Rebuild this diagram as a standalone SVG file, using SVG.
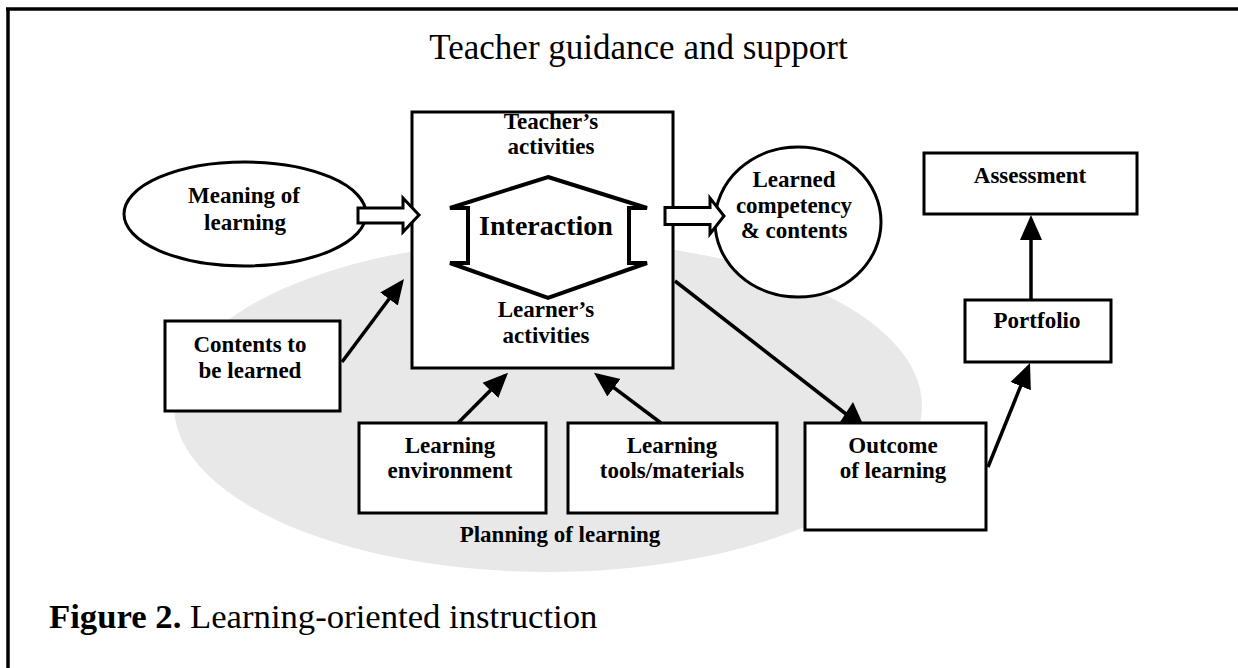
<svg xmlns="http://www.w3.org/2000/svg" width="1238" height="668" viewBox="0 0 1238 668">
<style>
.bx{fill:#fff;stroke:#000;stroke-width:3}
.lb{font-family:"Liberation Serif","Times New Roman",serif;font-weight:bold;font-size:23px;text-anchor:middle;fill:#000}
.big{font-size:28px}
.ln{stroke:#000;stroke-width:3.5;fill:none}
.hollow{fill:#fff;stroke:#000;stroke-width:3;stroke-linejoin:miter}
</style>
<defs>
<marker id="ah" markerUnits="userSpaceOnUse" markerWidth="26" markerHeight="24" viewBox="0 0 26 24" refX="21" refY="12" orient="auto">
<path d="M0,1 L25,12 L0,23 Z" fill="#000"/>
</marker>
</defs>
<rect width="1238" height="668" fill="#fff"/>
<g id="frame">
<line x1="6" y1="9" x2="1238" y2="9" stroke="#000" stroke-width="3.5"/>
<line x1="8" y1="8" x2="8" y2="668" stroke="#000" stroke-width="3.5"/>
</g>
<g id="planning">
<ellipse cx="548" cy="406" rx="374" ry="166" fill="#e8e8e8"/>
<text class="lb" x="560" y="542">Planning of learning</text>
</g>
<text id="title" x="638.5" y="59" font-family="'Liberation Serif','Times New Roman',serif" font-size="35" text-anchor="middle">Teacher guidance and support</text>
<g id="activities">
<rect class="bx" x="412" y="112" width="261" height="256" stroke-width="2.5"/>
<text class="lb" x="551" y="129">Teacher’s</text>
<text class="lb" x="551" y="154">activities</text>
<text class="lb" x="546" y="317">Learner’s</text>
<text class="lb" x="546" y="343">activities</text>
</g>
<g id="interaction">
<path d="M548,177 L647,208 H629 V263 H647 L548,298 L450,263 H468 V208 H450 Z" fill="#fff" stroke="#000" stroke-width="4" stroke-linejoin="miter"/>
<text class="lb big" x="546" y="235">Interaction</text>
</g>
<g id="meaning">
<ellipse class="bx" cx="245" cy="214" rx="121" ry="52"/>
<text class="lb" x="244" y="203">Meaning of</text>
<text class="lb" x="245" y="230">learning</text>
</g>
<g id="learned">
<ellipse class="bx" cx="798" cy="222" rx="83" ry="75"/>
<text class="lb" x="794" y="187">Learned</text>
<text class="lb" x="794" y="213">competency</text>
<text class="lb" x="794" y="238">&amp; contents</text>
</g>
<g id="assessment">
<rect class="bx" x="924" y="153" width="213" height="61"/>
<text class="lb" x="1030" y="183">Assessment</text>
</g>
<g id="portfolio">
<rect class="bx" x="965" y="300" width="146" height="62"/>
<text class="lb" x="1037" y="328">Portfolio</text>
</g>
<g id="contents">
<rect class="bx" x="165" y="321" width="175" height="90"/>
<text class="lb" x="250" y="352">Contents to</text>
<text class="lb" x="250" y="378">be learned</text>
</g>
<g id="environment">
<rect class="bx" x="359" y="423" width="187" height="90"/>
<text class="lb" x="450" y="453">Learning</text>
<text class="lb" x="450" y="478">environment</text>
</g>
<g id="tools">
<rect class="bx" x="568" y="423" width="209" height="90"/>
<text class="lb" x="672" y="453">Learning</text>
<text class="lb" x="672" y="478">tools/materials</text>
</g>
<g id="outcome">
<rect class="bx" x="805" y="423" width="181" height="107"/>
<text class="lb" x="893" y="453">Outcome</text>
<text class="lb" x="893" y="478">of learning</text>
</g>
<g id="connectors">
<path class="hollow" d="M358,208 H403 V198 L419,215 L403,232 V223 H358 Z"/>
<path class="hollow" d="M665,207.5 H710 V198 L724,216 L710,234 V224.5 H665 Z"/>
<line class="ln" x1="342" y1="362" x2="401.6" y2="282.2" marker-end="url(#ah)"/>
<line class="ln" x1="458" y1="423" x2="505.2" y2="375.5" marker-end="url(#ah)"/>
<line class="ln" x1="661" y1="423" x2="597.2" y2="375.1" marker-end="url(#ah)"/>
<line class="ln" x1="1031" y1="300" x2="1031" y2="219" marker-end="url(#ah)"/>
<line class="ln" x1="988" y1="467" x2="1028.5" y2="366.7" marker-end="url(#ah)"/>
<line class="ln" x1="675" y1="281" x2="846" y2="414"/>
<polygon points="853,402 840,422 862,422" fill="#000"/>
</g>
<text id="caption" x="49" y="628" font-family="'Liberation Serif','Times New Roman',serif" font-size="34.7"><tspan font-weight="bold">Figure 2.</tspan> Learning-oriented instruction</text>
</svg>
